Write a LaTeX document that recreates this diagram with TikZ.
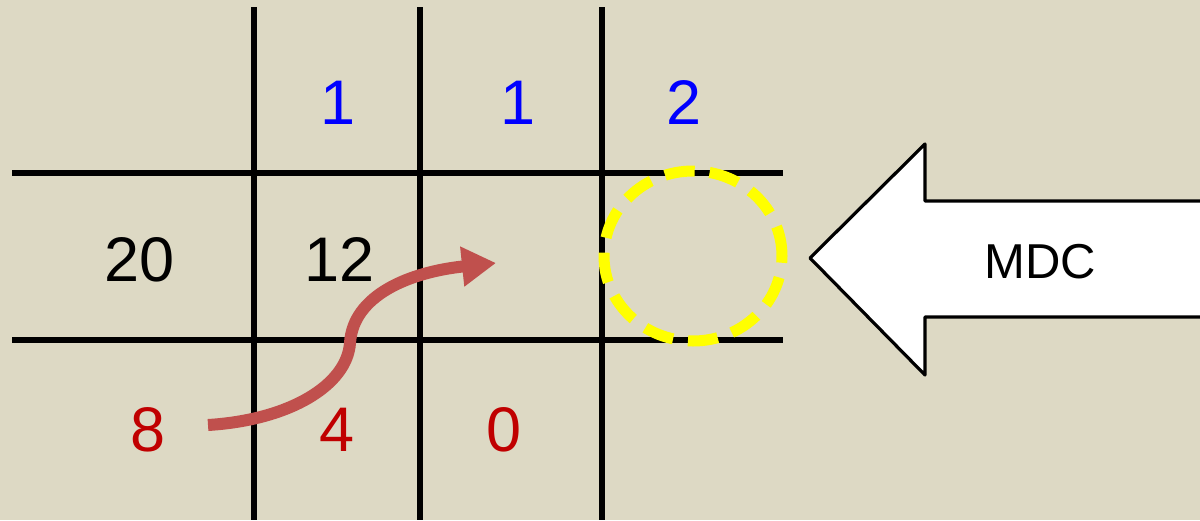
\documentclass[tikz,border=0pt]{standalone}
\usepackage{fontspec}
\setmainfont{Liberation Sans}
\usetikzlibrary{arrows.meta,shapes.geometric}
\definecolor{bg}{HTML}{DDD9C4}
\definecolor{arrowred}{HTML}{C0504D}
\definecolor{numred}{HTML}{C00000}
\definecolor{numblue}{HTML}{0000FF}
\definecolor{hiyellow}{HTML}{FFFF00}
\begin{document}
\begin{tikzpicture}[x=0.5pt,y=-0.5pt,
  gridline/.style={line width=2.6pt,black},
  num/.style={font=\fontsize{31.5}{36}\selectfont,inner sep=0pt,anchor=center},
  bluenum/.style={num,text=numblue},
  blacknum/.style={num,text=black},
  rednum/.style={num,text=numred},
  bigarrow/.style={draw=black,fill=white,line width=1.6pt,line join=round},
  highlight/.style={draw=hiyellow,line width=5.5pt,dash pattern=on 15pt off 7.5pt},
  curvearrow/.style={draw=arrowred,line width=6pt,-{Triangle[length=17pt,width=19pt]}}
]
\fill[bg] (0,0) rectangle (1200,520);
\useasboundingbox (0,0) rectangle (1200,520);
% grid
\coordinate (v1t) at (254,7); \coordinate (v1b) at (254,520);
\coordinate (v2t) at (420,7); \coordinate (v2b) at (420,520);
\coordinate (v3t) at (602,7); \coordinate (v3b) at (602,520);
\coordinate (h1l) at (12,173); \coordinate (h1r) at (783,173);
\coordinate (h2l) at (12,340); \coordinate (h2r) at (783,340);
\draw[gridline] (v1t) -- (v1b);
\draw[gridline] (v2t) -- (v2b);
\draw[gridline] (v3t) -- (v3b);
\draw[gridline] (h1l) -- (h1r);
\draw[gridline] (h2l) -- (h2r);
% numbers
\node[bluenum] (b1) at (338,103) {1};
\node[bluenum] (b2) at (518,103) {1};
\node[bluenum] (b3) at (684,103) {2};
\node[blacknum] (k1) at (140,260) {20};
\node[blacknum] (k2) at (340,260) {12};
\node[rednum] (r1) at (148,430) {8};
\node[rednum] (r2) at (337,430) {4};
\node[rednum] (r3) at (504,430) {0};
% yellow dashed circle
\node[highlight,ellipse,inner sep=0pt,outer sep=0pt,minimum width=89pt,minimum height=85pt] (hl) at (693,256) {};
% big arrow
\draw[bigarrow] (1215,201) -- (925,201) -- (925,144) -- (810,258) -- (925,375) -- (925,317) -- (1215,317);
\node[font=\fontsize{24.5}{28}\selectfont,inner sep=0pt] (mdc) at (1040,262) {MDC};
% red curved arrow
\coordinate (cs) at (208,425);
\coordinate (cm) at (350,343);
\coordinate (ce) at (496,263);
\draw[curvearrow] (cs) .. controls (290,420) and (347,385) .. (cm) .. controls (353,295) and (410,272) .. (ce);
\end{tikzpicture}
\end{document}
